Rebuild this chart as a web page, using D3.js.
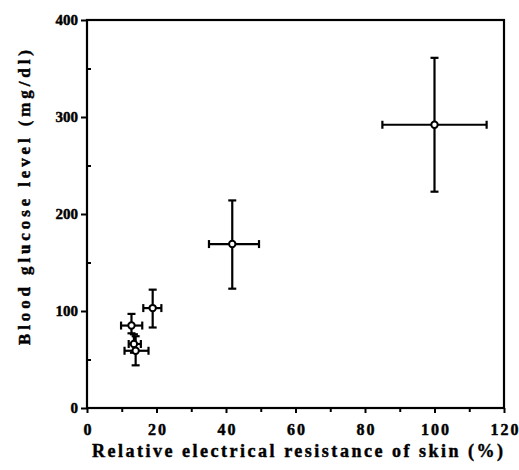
<!DOCTYPE html>
<html>
<head>
<meta charset="utf-8">
<script src="https://cdn.jsdelivr.net/npm/d3@7"></script>
<style>
  body { margin: 0; background: #fff; }
  .heavy text, text.heavy { stroke: #000; stroke-width: 0.45px; }
</style>
</head>
<body>
<svg id="chart" width="519" height="470"></svg>
<script>
// values
const resistance = [100, 41.8, 18.9, 12.8, 13.5, 14];
const resLo      = [85, 35.1, 16.2, 9.8, 12, 10.8];
const resHi      = [115, 49.5, 21.4, 15.9, 15.5, 17.7];
const glucose    = [292, 169, 103, 85, 66, 59];
const gluLo      = [223, 123, 83, 77, 57, 44];
const gluHi      = [361, 214, 122, 97, 76, 74];

const xTicks = [0, 20, 40, 60, 80, 100, 120];
const yTicks = [0, 100, 200, 300, 400];
const xLabel = 'Relative electrical resistance of skin (%)';
const yLabel = 'Blood glucose level (mg/dl)';

const serif = '"Liberation Serif"';

const W = 519, H = 470;
const m = {top: 20, right: 15, bottom: 62, left: 87};
const iw = W - m.left - m.right, ih = H - m.top - m.bottom;
const lw = 2.2;   // line weight
const cap = 4;    // half width of the error bar caps

const svg = d3.select('#chart');
const g = svg.append('g').attr('transform', `translate(${m.left},${m.top})`);

const x = d3.scaleLinear().domain([0, 120]).range([0, iw]);
const y = d3.scaleLinear().domain([0, 400]).range([ih, 0]);

// frame
g.append('rect')
    .attr('width', iw)
    .attr('height', ih)
    .style('fill', 'none')
    .style('stroke', 'black')
    .style('stroke-width', lw);

// minor ticks
g.append('g')
    .attr('transform', `translate(0,${ih})`)
    .call(d3.axisBottom(x).tickValues(d3.range(10, 120, 20)).tickSize(4).tickFormat(''))
    .call(a => a.select('.domain').remove())
    .selectAll('line').style('stroke-width', 2);
g.append('g')
    .call(d3.axisLeft(y).tickValues(d3.range(50, 400, 100)).tickSize(-4).tickFormat(''))
    .call(a => a.select('.domain').remove())
    .selectAll('line').style('stroke-width', 2);

// major ticks + labels
const xa = g.append('g')
    .attr('class', 'heavy')
    .attr('transform', `translate(0,${ih})`)
    .call(d3.axisBottom(x).tickValues(xTicks).tickSize(5).tickPadding(11));
xa.attr('font-family', serif).attr('font-size', 16).attr('font-weight', 'bold');
xa.select('.domain').remove();
xa.selectAll('line').style('stroke-width', 2);
xa.selectAll('text')
    .attr('dx', 1)
    .style('letter-spacing', '2px');

const ya = g.append('g')
    .attr('class', 'heavy')
    .call(d3.axisLeft(y).tickValues(yTicks).tickSize(6).tickPadding(3));
ya.attr('font-family', serif).attr('font-size', 15).attr('font-weight', 'bold');
ya.select('.domain').remove();
ya.selectAll('line').style('stroke-width', 2);

// error bars
const pts = d3.range(resistance.length).map(i => ({
    x: resistance[i], y: glucose[i],
    x0: resLo[i], x1: resHi[i], y0: gluLo[i], y1: gluHi[i]
}));

const eb = g.append('g').selectAll('g').data(pts).enter().append('g');
eb.append('line')
    .attr('x1', d => x(d.x0)).attr('x2', d => x(d.x1))
    .attr('y1', d => y(d.y)).attr('y2', d => y(d.y));
eb.append('line')
    .attr('x1', d => x(d.x)).attr('x2', d => x(d.x))
    .attr('y1', d => y(d.y0)).attr('y2', d => y(d.y1));
// caps
eb.selectAll('.vcap').data(d => [[d.x, d.y0], [d.x, d.y1]]).enter().append('line')
    .attr('x1', d => x(d[0]) - cap).attr('x2', d => x(d[0]) + cap)
    .attr('y1', d => y(d[1])).attr('y2', d => y(d[1]));
eb.selectAll('.hcap').data(d => [[d.x0, d.y], [d.x1, d.y]]).enter().append('line')
    .attr('x1', d => x(d[0])).attr('x2', d => x(d[0]))
    .attr('y1', d => y(d[1]) - cap).attr('y2', d => y(d[1]) + cap);
eb.selectAll('line')
    .style('stroke', 'black')
    .style('stroke-width', lw);

// markers
g.append('g').selectAll('circle').data(pts).enter().append('circle')
    .attr('cx', d => x(d.x))
    .attr('cy', d => y(d.y))
    .attr('r', 3.2)
    .style('fill', 'white')
    .style('stroke', 'black')
    .style('stroke-width', 2);

// axis titles
svg.append('text')
    .attr('class', 'heavy')
    .attr('x', 92)
    .attr('y', 457)
    .attr('textLength', 411)
    .attr('lengthAdjust', 'spacing')
    .attr('font-family', serif)
    .attr('font-weight', 'bold')
    .attr('font-size', 18)
    .text(xLabel);

svg.append('text')
    .attr('class', 'heavy')
    .attr('transform', 'translate(30,345) rotate(-90)')
    .attr('textLength', 295)
    .attr('lengthAdjust', 'spacing')
    .attr('font-family', serif)
    .attr('font-weight', 'bold')
    .attr('font-size', 17)
    .text(yLabel);
</script>
</body>
</html>
